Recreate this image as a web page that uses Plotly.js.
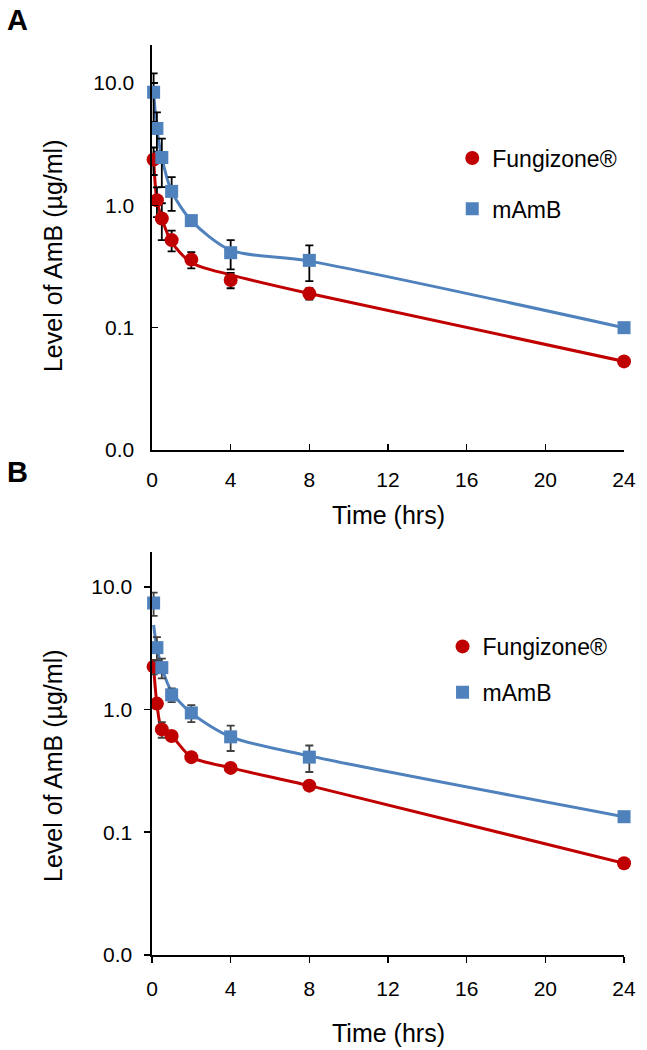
<!DOCTYPE html>
<html>
<head>
<meta charset="utf-8">
<script src="https://cdn.plot.ly/plotly-3.0.1.min.js"></script>
<style>html,body{margin:0;padding:0;background:#fff;}#chart{width:647px;height:1050px;}</style>
</head>
<body>
<div id="chart"></div>
<script>
// ---- data ----
const timeHrs = [0.083, 0.25, 0.5, 1, 2, 4, 8, 24];

// Panel A
const fungA    = [2.37, 1.10, 0.78, 0.52, 0.36, 0.245, 0.19, 0.053];
const fungAErr = [0.6, 0.3, 0.26, 0.1, 0.055, 0.035, 0.02, 0.003];
const mambA    = [8.4, 4.25, 2.46, 1.3, 0.75, 0.41, 0.355, 0.10];
const mambAErr = [3.6, 1.5, 1.05, 0.4, 0.06, 0.11, 0.115, 0.005];
const fitFungA = [2.37, 1.10, 0.78, 0.50, 0.34, 0.27, 0.19, 0.053];
const fitMambA = [8.4, 4.25, 2.46, 1.3, 0.75, 0.43, 0.35, 0.10];

// Panel B
const fungB    = [2.24, 1.12, 0.69, 0.61, 0.41, 0.335, 0.24, 0.056];
const fungBErr = [0.3, 0.1, 0.1, 0.03, 0.03, 0.02, 0.015, 0.003];
const mambB    = [7.4, 3.2, 2.2, 1.32, 0.94, 0.6, 0.41, 0.134];
const mambBErr = [1.6, 0.7, 0.4, 0.17, 0.15, 0.14, 0.1, 0.005];
const fitFungB = [2.24, 1.12, 0.69, 0.61, 0.41, 0.335, 0.24, 0.056];
const fitMambB = [4.9, 3.2, 2.2, 1.4, 0.94, 0.6, 0.42, 0.134];

const seriesNames = ['Fungizone®', 'mAmB'];
const xTickVals = [0, 4, 8, 12, 16, 20, 24];
const yTickVals = [0.01, 0.1, 1, 10];
const yTickText = ['0.0', '0.1', '1.0', '10.0'];

// ---- style ----
const RED = '#C00000';
const BLUE = '#4F81BD';
const FONT = 'Liberation Sans, Arial, sans-serif';

function curve(y, color, xa, ya) {
  return {x: timeHrs, y: y, xaxis: xa, yaxis: ya, mode: 'lines', type: 'scatter',
    line: {color: color, width: 3, shape: 'spline', smoothing: 0.8},
    showlegend: false, hoverinfo: 'skip', cliponaxis: false};
}
function pts(y, err, color, symbol, name, xa, ya, errColor, leg, grp) {
  return {x: timeHrs, y: y, xaxis: xa, yaxis: ya, mode: 'markers', type: 'scatter',
    name: name, legend: leg, legendgroup: grp,
    marker: {color: color, size: symbol === 'square' ? 13 : 14, symbol: symbol},
    error_y: {type: 'data', array: err, visible: true, color: errColor, thickness: 1.8, width: 4},
    cliponaxis: false};
}

const traces = [
  curve(fitFungA, RED, 'x', 'y'),
  curve(fitMambA, BLUE, 'x', 'y'),
  pts(fungA, fungAErr, RED, 'circle', seriesNames[0], 'x', 'y', '#000', 'legend', 'fa'),
  pts(mambA, mambAErr, BLUE, 'square', seriesNames[1], 'x', 'y', '#000', 'legend', 'ma'),
  curve(fitFungB, RED, 'x2', 'y2'),
  curve(fitMambB, BLUE, 'x2', 'y2'),
  pts(fungB, fungBErr, RED, 'circle', seriesNames[0], 'x2', 'y2', '#404040', 'legend2', 'fb'),
  pts(mambB, mambBErr, BLUE, 'square', seriesNames[1], 'x2', 'y2', '#404040', 'legend2', 'mb')
];

function xAxis(anchor, ticksDir) {
  return {domain: [0.2349, 0.9645], anchor: anchor, range: [0, 24], tickvals: xTickVals,
    showgrid: false, zeroline: false, showline: true, linecolor: '#000', linewidth: 1.6,
    ticks: ticksDir, ticklen: 6, tickwidth: 1.6, tickcolor: '#000',
    tickfont: {family: FONT, size: 21, color: '#000'}, ticklabelstandoff: ticksDir === 'inside' ? 10 : 8};
}
function yAxis(domain, range, anchor, ticksDir) {
  return {domain: domain, anchor: anchor, type: 'log', range: range,
    tickvals: yTickVals, ticktext: yTickText,
    showgrid: false, zeroline: false, showline: true, linecolor: '#000', linewidth: 1.6,
    ticks: ticksDir, ticklen: 6, tickwidth: 1.6, tickcolor: '#000',
    tickfont: {family: FONT, size: 21, color: '#000'}, ticklabelstandoff: ticksDir === 'inside' ? 12 : 8};
}

const ann = (text, x, y, size, opts) => Object.assign({text: text, x: x, y: y, xref: 'paper', yref: 'paper',
  showarrow: false, xanchor: 'center', yanchor: 'middle', font: {family: FONT, size: size, color: '#000'}}, opts || {});

const legendStyle = (x, y, gap) => ({x: x, y: y, xanchor: 'left', yanchor: 'top', bgcolor: 'rgba(0,0,0,0)',
  borderwidth: 0, tracegroupgap: gap, font: {family: FONT, size: 23, color: '#000'}, itemwidth: 30});

const layout = {
  width: 647, height: 1050,
  margin: {l: 0, r: 0, t: 0, b: 0},
  paper_bgcolor: '#fff', plot_bgcolor: '#fff',
  showlegend: true,
  xaxis: xAxis('y', 'inside'),
  yaxis: yAxis([0.5714, 0.9571], [-2, 1.31], 'x', 'inside'),
  xaxis2: xAxis('y2', 'outside'),
  yaxis2: yAxis([0.0905, 0.4743], [-2, 1.285], 'x2', 'outside'),
  legend: legendStyle(0.699, 0.870, 18),
  legend2: legendStyle(0.684, 0.4048, 13),
  annotations: [
    ann('<b>A</b>', 0.0263, 0.981, 29),
    ann('<b>B</b>', 0.0278, 0.5505, 29),
    ann('Level of AmB (µg/ml)', 0.0819, 0.7571, 25, {textangle: -90}),
    ann('Level of AmB (µg/ml)', 0.0819, 0.2714, 25, {textangle: -90}),
    ann('Time (hrs)', 0.6012, 1 - 515/1050, 25),
    ann('Time (hrs)', 0.6012, 0.0162, 25)
  ]
};

Plotly.newPlot('chart', traces, layout, {staticPlot: true, displayModeBar: false});
</script>
</body>
</html>
